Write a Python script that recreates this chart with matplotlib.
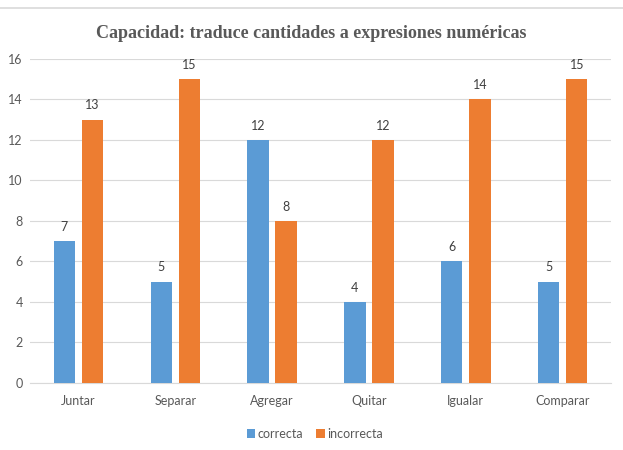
import matplotlib
matplotlib.use('Agg')
import matplotlib.pyplot as plt
import numpy as np

categories = ['Juntar', 'Separar', 'Agregar', 'Quitar', 'Igualar', 'Comparar']
correcta = [7, 5, 12, 4, 6, 5]
incorrecta = [13, 15, 8, 12, 14, 15]
yticks = [0, 2, 4, 6, 8, 10, 12, 14, 16]

plt.rcParams['font.family'] = ['Lato', 'DejaVu Sans']

fig = plt.figure(figsize=(6.23, 4.5), dpi=100)
ax = fig.add_axes([0.048, 0.149, 0.933, 0.72])

x = np.arange(len(categories))
w = 0.22
off = 0.145
b1 = ax.bar(x - off, correcta, w, color='#5B9BD5', label='correcta', zorder=3)
b2 = ax.bar(x + off, incorrecta, w, color='#ED7D31', label='incorrecta', zorder=3)

for bars in (b1, b2):
    for r in bars:
        ax.annotate(f'{int(r.get_height())}', (r.get_x() + r.get_width() / 2, r.get_height()),
                    xytext=(0, 6), textcoords='offset points', ha='center', va='bottom',
                    fontsize=9, color='#404040')

ax.set_xlim(-0.5, len(categories) - 0.5)
ax.set_ylim(0, 16)
ax.set_yticks(yticks)
ax.set_xticks(x)
ax.set_xticklabels(categories)
ax.tick_params(axis='both', length=0, labelsize=9, labelcolor='#595959')
ax.tick_params(axis='x', pad=9)
ax.tick_params(axis='y', pad=5)
ax.grid(axis='y', color='#D9D9D9', linewidth=0.8, zorder=0)
for s in ['top', 'right', 'left']:
    ax.spines[s].set_visible(False)
ax.spines['bottom'].set_color('#D9D9D9')

fig.text(0.5, 0.925, 'Capacidad: traduce cantidades a expresiones numéricas',
         ha='center', va='center', fontsize=13, fontweight='bold',
         family='Liberation Serif', color='#595959')

fig.add_artist(plt.Line2D([0, 1], [0.982, 0.982], color='#D9D9D9', linewidth=1.2,
                          transform=fig.transFigure))

ax.legend(loc='center', bbox_to_anchor=(0.49, -0.157), ncol=2, frameon=False,
          fontsize=9, handlelength=0.7, handleheight=0.7, handletextpad=0.2,
          columnspacing=1.0, labelcolor='#595959')

fig.savefig('out.png', dpi=100)
